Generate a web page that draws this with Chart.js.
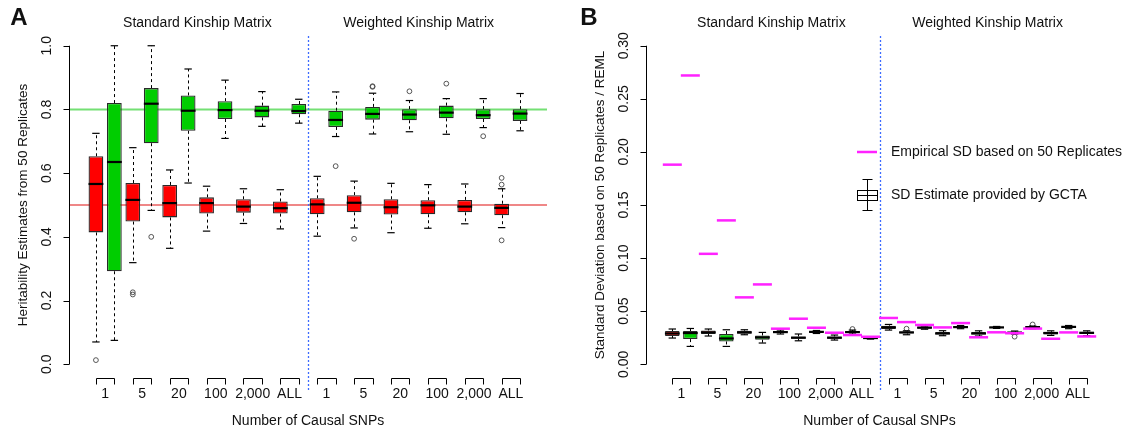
<!DOCTYPE html>
<html>
<head>
<meta charset="utf-8">
<script src="https://cdn.jsdelivr.net/npm/chart.js@4.4.1/dist/chart.umd.min.js"></script>
<style>
  body { margin: 0; background: #fff; }
  #wrap { position: relative; width: 1125px; height: 433px; }
  canvas { position: absolute; top: 0; }
</style>
</head>
<body>
<div id="wrap">
  <canvas id="chartA" width="562" height="433" style="left:0"></canvas>
  <canvas id="chartB" width="563" height="433" style="left:562px"></canvas>
</div>
<script>
const categories = ['1', '5', '20', '100', '2,000', 'ALL'];
const matrices = ['Standard Kinship Matrix', 'Weighted Kinship Matrix'];
const xTitle = 'Number of Causal SNPs';

const aTicks = [0, 0.2, 0.4, 0.6, 0.8, 1.0];
const aTickLabels = ['0.0', '0.2', '0.4', '0.6', '0.8', '1.0'];
const bTicks = [0, 0.05, 0.10, 0.15, 0.20, 0.25, 0.30];
const bTickLabels = ['0.00', '0.05', '0.10', '0.15', '0.20', '0.25', '0.30'];

// true heritabilities drawn as reference lines in panel A
const trueH2 = [0.5, 0.8];

// Panel A, h2 = 0.5 (red). 12 groups: standard 1..ALL, then weighted 1..ALL
const a50Low  = [0.070, 0.319, 0.364, 0.418, 0.442, 0.425, 0.402, 0.428, 0.413, 0.427, 0.441, 0.429];
const a50Q1   = [0.414, 0.448, 0.461, 0.473, 0.476, 0.473, 0.471, 0.477, 0.470, 0.471, 0.477, 0.468];
const a50Med  = [0.566, 0.516, 0.506, 0.506, 0.495, 0.490, 0.502, 0.507, 0.493, 0.499, 0.495, 0.491];
const a50Q3   = [0.653, 0.569, 0.563, 0.524, 0.518, 0.511, 0.521, 0.531, 0.518, 0.515, 0.516, 0.504];
const a50High = [0.725, 0.680, 0.610, 0.559, 0.551, 0.548, 0.590, 0.575, 0.568, 0.564, 0.566, 0.551];
const a50Out  = [[0.013], [0.226, 0.219], [], [], [], [], [], [0.394], [], [], [], [0.585, 0.564, 0.389]];

// Panel A, h2 = 0.8 (green)
const a80Low  = [0.075, 0.483, 0.569, 0.709, 0.747, 0.757, 0.715, 0.723, 0.730, 0.722, 0.743, 0.733];
const a80Q1   = [0.292, 0.694, 0.733, 0.770, 0.775, 0.785, 0.745, 0.768, 0.766, 0.772, 0.770, 0.764];
const a80Med  = [0.635, 0.818, 0.796, 0.798, 0.796, 0.795, 0.767, 0.786, 0.784, 0.790, 0.782, 0.787];
const a80Q3   = [0.820, 0.867, 0.844, 0.826, 0.812, 0.817, 0.796, 0.808, 0.801, 0.812, 0.801, 0.801];
const a80High = [1.000, 1.000, 0.927, 0.892, 0.856, 0.832, 0.855, 0.851, 0.828, 0.834, 0.834, 0.850];
const a80Out  = [[], [0.400], [], [], [], [], [0.622], [0.873, 0.871], [0.857], [0.881], [0.716], []];

// Panel B, GCTA SD estimates, h2 = 0.5
const b50Low  = [0.0247, 0.0266, 0.0278, 0.0285, 0.0290, 0.0285, 0.0322, 0.0330, 0.0335, 0.0338, 0.0335, 0.0335];
const b50Q1   = [0.0266, 0.0285, 0.0287, 0.0294, 0.0297, 0.0294, 0.0332, 0.0335, 0.0341, 0.0341, 0.0341, 0.0341];
const b50Med  = [0.0290, 0.0300, 0.0300, 0.0303, 0.0305, 0.0303, 0.0347, 0.0345, 0.0350, 0.0347, 0.0350, 0.0352];
const b50Q3   = [0.0313, 0.0318, 0.0316, 0.0313, 0.0313, 0.0313, 0.0363, 0.0356, 0.0360, 0.0353, 0.0356, 0.0360];
const b50High = [0.0332, 0.0332, 0.0325, 0.0322, 0.0318, 0.0322, 0.0375, 0.0360, 0.0365, 0.0356, 0.0360, 0.0365];
const b50Out  = [[], [], [], [], [], [0.0332], [], [], [], [], [0.0375], []];

// Panel B, GCTA SD estimates, h2 = 0.8
const b80Low  = [0.0168, 0.0168, 0.0200, 0.0221, 0.0228, 0.0237, 0.0278, 0.0269, 0.0266, 0.0285, 0.0272, 0.0269];
const b80Q1   = [0.0237, 0.0215, 0.0231, 0.0240, 0.0240, 0.0240, 0.0290, 0.0281, 0.0281, 0.0290, 0.0281, 0.0285];
const b80Med  = [0.0294, 0.0243, 0.0253, 0.0250, 0.0250, 0.0247, 0.0300, 0.0290, 0.0290, 0.0298, 0.0294, 0.0296];
const b80Q3   = [0.0313, 0.0285, 0.0271, 0.0262, 0.0262, 0.0253, 0.0309, 0.0303, 0.0303, 0.0306, 0.0306, 0.0306];
const b80High = [0.0337, 0.0325, 0.0300, 0.0285, 0.0275, 0.0260, 0.0315, 0.0316, 0.0315, 0.0313, 0.0315, 0.0315];
const b80Out  = [[], [], [], [], [], [], [0.0335], [], [], [0.0260], [], []];

// Panel B, empirical SD over 50 replicates
const emp50 = [0.188, 0.104, 0.063, 0.0335, 0.0344, 0.0275, 0.0436, 0.0370, 0.0388, 0.0301, 0.0336, 0.0300];
const emp80 = [0.272, 0.1355, 0.0752, 0.0429, 0.0297, 0.0259, 0.0397, 0.0347, 0.0254, 0.0292, 0.0240, 0.0262];

const FONT = '"Liberation Sans", Arial, Helvetica, sans-serif';
const RED = '#ff0000';
const GREEN = '#00cd00';

function makeDecor(cfg, slots) {
  return {
    id: 'decor',
    beforeDatasetsDraw(chart) {
      const { ctx, chartArea: a, scales: { x, y } } = chart;
      ctx.save();
      (cfg.refLines || []).forEach(r => {
        const py = y.getPixelForValue(r.value);
        ctx.strokeStyle = r.color;
        ctx.lineWidth = r.width;
        ctx.beginPath(); ctx.moveTo(a.left, py); ctx.lineTo(a.right, py); ctx.stroke();
      });
      // divider between the two kinship matrices
      const dx = Math.round(x.getPixelForValue(11.5)) + 0.5;
      ctx.strokeStyle = '#3d6bff'; ctx.lineWidth = 1.3; ctx.setLineDash([2, 2]);
      ctx.beginPath(); ctx.moveTo(dx, 36); ctx.lineTo(dx, 390); ctx.stroke();
      // whiskers
      ctx.strokeStyle = '#000'; ctx.lineWidth = 1; ctx.setLineDash([3, 3]);
      slots.forEach(s => {
        const px = Math.round(x.getPixelForValue(s.x)) + 0.5;
        ctx.beginPath();
        ctx.moveTo(px, y.getPixelForValue(s.q3)); ctx.lineTo(px, y.getPixelForValue(s.high));
        ctx.moveTo(px, y.getPixelForValue(s.q1)); ctx.lineTo(px, y.getPixelForValue(s.low));
        ctx.stroke();
      });
      ctx.restore();
    },
    afterDraw(chart) {
      const { ctx, chartArea: a, scales: { x, y } } = chart;
      ctx.save();
      ctx.fillStyle = '#111';
      ctx.strokeStyle = '#000';
      ctx.lineWidth = 1;
      // y axis
      const y0 = y.getPixelForValue(cfg.ticks[0]);
      const y1 = y.getPixelForValue(cfg.ticks[cfg.ticks.length - 1]);
      const ax = a.left + 0.5;
      ctx.beginPath(); ctx.moveTo(ax, y0); ctx.lineTo(ax, y1);
      cfg.ticks.forEach(t => { const py = Math.round(y.getPixelForValue(t)) + 0.5; ctx.moveTo(ax, py); ctx.lineTo(ax - 6, py); });
      ctx.stroke();
      ctx.font = '14px ' + FONT;
      ctx.textAlign = 'center'; ctx.textBaseline = 'middle';
      cfg.ticks.forEach((t, i) => {
        ctx.save();
        ctx.translate(a.left - 22, y.getPixelForValue(t));
        ctx.rotate(-Math.PI / 2);
        ctx.fillText(cfg.tickLabels[i], 0, 0);
        ctx.restore();
      });
      ctx.save();
      ctx.font = '13.5px ' + FONT;
      ctx.translate(a.left - 46, (y0 + y1) / 2);
      ctx.rotate(-Math.PI / 2);
      ctx.fillText(cfg.yTitle, 0, 0);
      ctx.restore();
      // category brackets
      ctx.beginPath();
      for (let g = 0; g < 12; g++) {
        const x1 = Math.round(x.getPixelForValue(2 * g)) + 0.5;
        const x2 = Math.round(x.getPixelForValue(2 * g + 1)) + 0.5;
        ctx.moveTo(x1, 384.5); ctx.lineTo(x1, 378.5); ctx.lineTo(x2, 378.5); ctx.lineTo(x2, 384.5);
      }
      ctx.stroke();
      for (let g = 0; g < 12; g++) {
        ctx.fillText(categories[g % 6], x.getPixelForValue(2 * g + 0.5), 394);
      }
      ctx.fillText(xTitle, (a.left + a.right) / 2, 421);
      ctx.fillText(matrices[0], x.getPixelForValue(5.5), 23);
      ctx.fillText(matrices[1], x.getPixelForValue(17.5), 23);
      ctx.font = 'bold 24px ' + FONT;
      ctx.fillText(cfg.letter, cfg.letterX, 18);
      if (cfg.legend) {
        const L = cfg.legend;
        ctx.strokeStyle = '#ff22ff'; ctx.lineWidth = 2.5;
        ctx.beginPath(); ctx.moveTo(L.x, 152); ctx.lineTo(L.x + 20, 152); ctx.stroke();
        ctx.strokeStyle = '#000'; ctx.lineWidth = 1;
        const cx = L.x + 10.5;
        ctx.strokeRect(L.x + 0.5, 190.5, 20, 10);
        ctx.beginPath();
        ctx.moveTo(L.x, 195.5); ctx.lineTo(L.x + 20, 195.5);
        ctx.moveTo(cx, 179); ctx.lineTo(cx, 211);
        ctx.moveTo(cx - 5, 179.5); ctx.lineTo(cx + 5, 179.5);
        ctx.moveTo(cx - 5, 210.5); ctx.lineTo(cx + 5, 210.5);
        ctx.stroke();
        ctx.font = '14px ' + FONT;
        ctx.textAlign = 'left';
        ctx.fillText(L.labels[0], L.x + 34, 152);
        ctx.fillText(L.labels[1], L.x + 34, 195);
      }
      ctx.restore();
    }
  };
}

function makePanel(id, cfg) {
  const slots = [];
  cfg.series.forEach((s, si) => {
    s.med.forEach((m, g) => {
      slots.push({ x: g * 2 + si, low: s.low[g], q1: s.q1[g], med: m, q3: s.q3[g], high: s.high[g], out: s.out[g], fill: s.fill });
    });
  });
  const datasets = [];
  if (cfg.emp) {
    const pts = [];
    cfg.emp.forEach((arr, si) => arr.forEach((v, g) => pts.push({ x: g * 2 + si, y: v })));
    datasets.push({
      type: 'scatter', data: pts, pointStyle: 'line', pointRadius: 9.5,
      pointBorderColor: '#ff22ff', pointBorderWidth: 2.5, order: 0
    });
  }
  datasets.push({
    type: 'scatter', data: slots.map(s => ({ x: s.x, y: s.med })),
    pointStyle: 'line', pointRadius: cfg.medRadius, pointBorderColor: '#000', pointBorderWidth: 2.2, order: 1
  });
  datasets.push({
    type: 'scatter',
    data: slots.flatMap(s => [{ x: s.x, y: s.low }, { x: s.x, y: s.high }]),
    pointStyle: 'line', pointRadius: 3.7, pointBorderColor: '#000', pointBorderWidth: 1.2, order: 2
  });
  datasets.push({
    type: 'scatter',
    data: slots.flatMap(s => s.out.map(v => ({ x: s.x, y: v }))),
    pointStyle: 'circle', pointRadius: 2.4, pointBorderColor: '#444', pointBorderWidth: 0.9,
    pointBackgroundColor: 'rgba(0,0,0,0)', order: 3
  });
  datasets.push({
    type: 'bar', data: slots.map(s => ({ x: s.x, y: [s.q1, s.q3] })),
    backgroundColor: slots.map(s => s.fill), borderColor: '#2a2a2a', borderWidth: 1.3,
    borderSkipped: false, barPercentage: 0.8, categoryPercentage: 1, order: 5
  });

  return new Chart(document.getElementById(id), {
    type: 'bar',
    data: { datasets },
    options: {
      responsive: false,
      animation: false,
      events: [],
      layout: { padding: cfg.padding },
      plugins: { legend: { display: false }, tooltip: { enabled: false } },
      scales: {
        x: { type: 'linear', min: -1.46, max: 24.46, offset: false, display: false },
        y: { type: 'linear', min: cfg.yMin, max: cfg.yMax, display: false }
      }
    },
    plugins: [makeDecor(cfg, slots)]
  });
}

makePanel('chartA', {
  series: [
    { low: a50Low, q1: a50Q1, med: a50Med, q3: a50Q3, high: a50High, out: a50Out, fill: RED },
    { low: a80Low, q1: a80Q1, med: a80Med, q3: a80Q3, high: a80High, out: a80Out, fill: GREEN }
  ],
  refLines: [
    { value: trueH2[0], color: '#e01010', width: 1.2 },
    { value: trueH2[1], color: '#74e074', width: 2 }
  ],
  ticks: aTicks, tickLabels: aTickLabels,
  yTitle: 'Heritability Estimates from 50 Replicates',
  yMin: -0.04, yMax: 1.04,
  padding: { left: 69, right: 15, top: 33, bottom: 56 },
  medRadius: 7.4,
  letter: 'A', letterX: 19
});

makePanel('chartB', {
  series: [
    { low: b50Low, q1: b50Q1, med: b50Med, q3: b50Q3, high: b50High, out: b50Out, fill: RED },
    { low: b80Low, q1: b80Q1, med: b80Med, q3: b80Q3, high: b80High, out: b80Out, fill: GREEN }
  ],
  emp: [emp50, emp80],
  ticks: bTicks, tickLabels: bTickLabels,
  yTitle: 'Standard Deviation based on 50 Replicates / REML',
  yMin: -0.012, yMax: 0.312,
  padding: { left: 84, right: 0, top: 33, bottom: 56 },
  medRadius: 7.4,
  letter: 'B', letterX: 27,
  legend: { x: 295, labels: ['Empirical SD based on 50 Replicates', 'SD Estimate provided by GCTA'] }
});
</script>
</body>
</html>
